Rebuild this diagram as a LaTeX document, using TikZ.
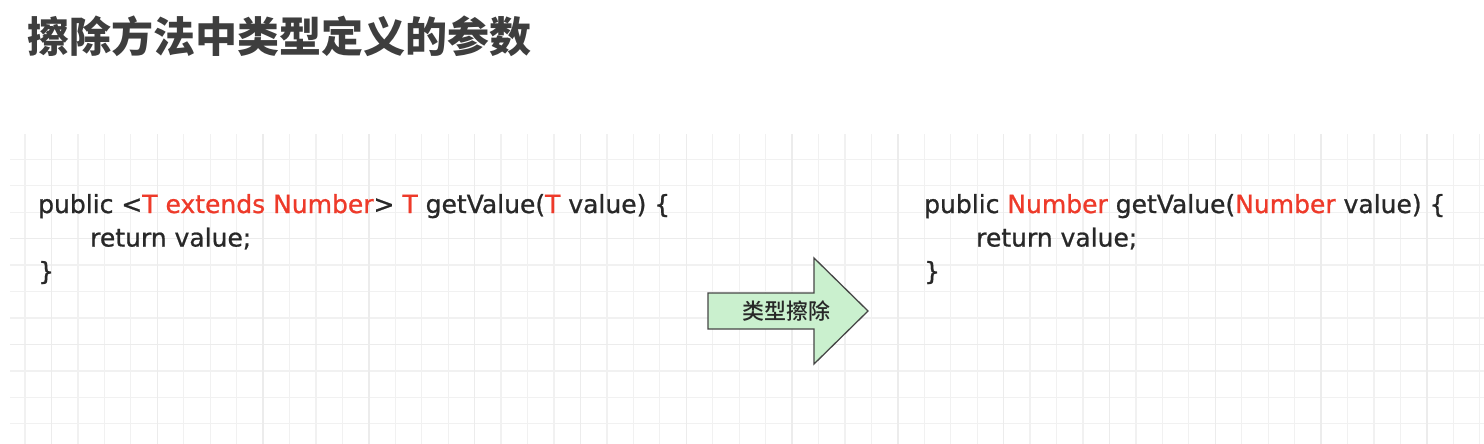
\documentclass[tikz,border=0pt]{standalone}
\usepackage{fontspec}
\setmainfont{DejaVu Sans}
\newfontfamily\cjk{Noto Sans CJK SC}
\newfontfamily\cjkmed{Noto Sans CJK SC Medium}
\newfontfamily\codefont[FakeBold=0.9]{DejaVu Sans}
\definecolor{codered}{RGB}{238,58,42}
\definecolor{codeink}{RGB}{40,40,40}
\definecolor{titleink}{RGB}{62,62,62}
\definecolor{gridminor}{RGB}{241,241,241}
\definecolor{gridmajor}{RGB}{236,236,236}
\definecolor{arrowfill}{RGB}{202,240,206}
\definecolor{arrowline}{RGB}{70,70,70}
\tikzset{
  code/.style={anchor=base west, inner sep=0pt, text=codeink, font=\codefont\fontsize{25}{30}\selectfont},
  titletext/.style={anchor=base west, inner sep=0pt, text=titleink, font=\cjk\bfseries\fontsize{42}{48}\selectfont},
  erasearrow/.style={draw=arrowline, fill=arrowfill, line width=1.3pt, line join=miter},
  erasetext/.style={inner sep=0pt, text=codeink, font=\cjkmed\fontsize{22}{26}\selectfont},
  minorline/.style={draw=gridminor, line width=1.3pt},
  majorline/.style={draw=gridmajor, line width=1.4pt}
}
\newcommand{\rd}[1]{\textcolor{codered}{#1}}
\begin{document}
\begin{tikzpicture}[x=1pt,y=-1pt]
\useasboundingbox[fill=white] (0,0) rectangle (1484,444);
% grid minor
\foreach \k in {0,...,55} {
  \pgfmathtruncatemacro\m{mod(\k,4)}
  \pgfmathsetmacro\xx{25+26.45*\k}
  \ifnum\m=1\relax\else\draw[minorline] (\xx,134) -- (\xx,444);\fi
}
\foreach \k in {0,...,10} {
  \pgfmathtruncatemacro\m{mod(\k,4)}
  \pgfmathsetmacro\yy{159.3+26.45*\k}
  \ifnum\m=3\relax\else\draw[minorline] (10,\yy) -- (1484,\yy);\fi
}
% grid major
\foreach \k in {1,5,...,53} {
  \pgfmathsetmacro\xx{25+26.45*\k}
  \draw[majorline] (\xx,134) -- (\xx,444);
}
\foreach \k in {3,7} {
  \pgfmathsetmacro\yy{159.3+26.45*\k}
  \draw[majorline] (10,\yy) -- (1484,\yy);
}
% title
\node[titletext] (title) at (27,53) {擦除方法中类型定义的参数};
% left code
\node[code] (l1) at (38,213) {public <\rd{T extends Number}> \rd{T} getValue(\rd{T} value) \{};
\node[code] (l2) at (90,246.5) {return value;};
\node[code] (l3) at (38,280) {\}};
% right code
\node[code] (r1) at (924,213) {public \rd{Number} getValue(\rd{Number} value) \{};
\node[code] (r2) at (976,246.5) {return value;};
\node[code] (r3) at (924,280) {\}};
% arrow
\path[erasearrow] (708,293) -- (814,293) -- (814,258) -- (868,311) -- (814,364) -- (814,329) -- (708,329) -- cycle;
\node[erasetext] (erase) at (786.5,311) {类型擦除};
\end{tikzpicture}
\end{document}
